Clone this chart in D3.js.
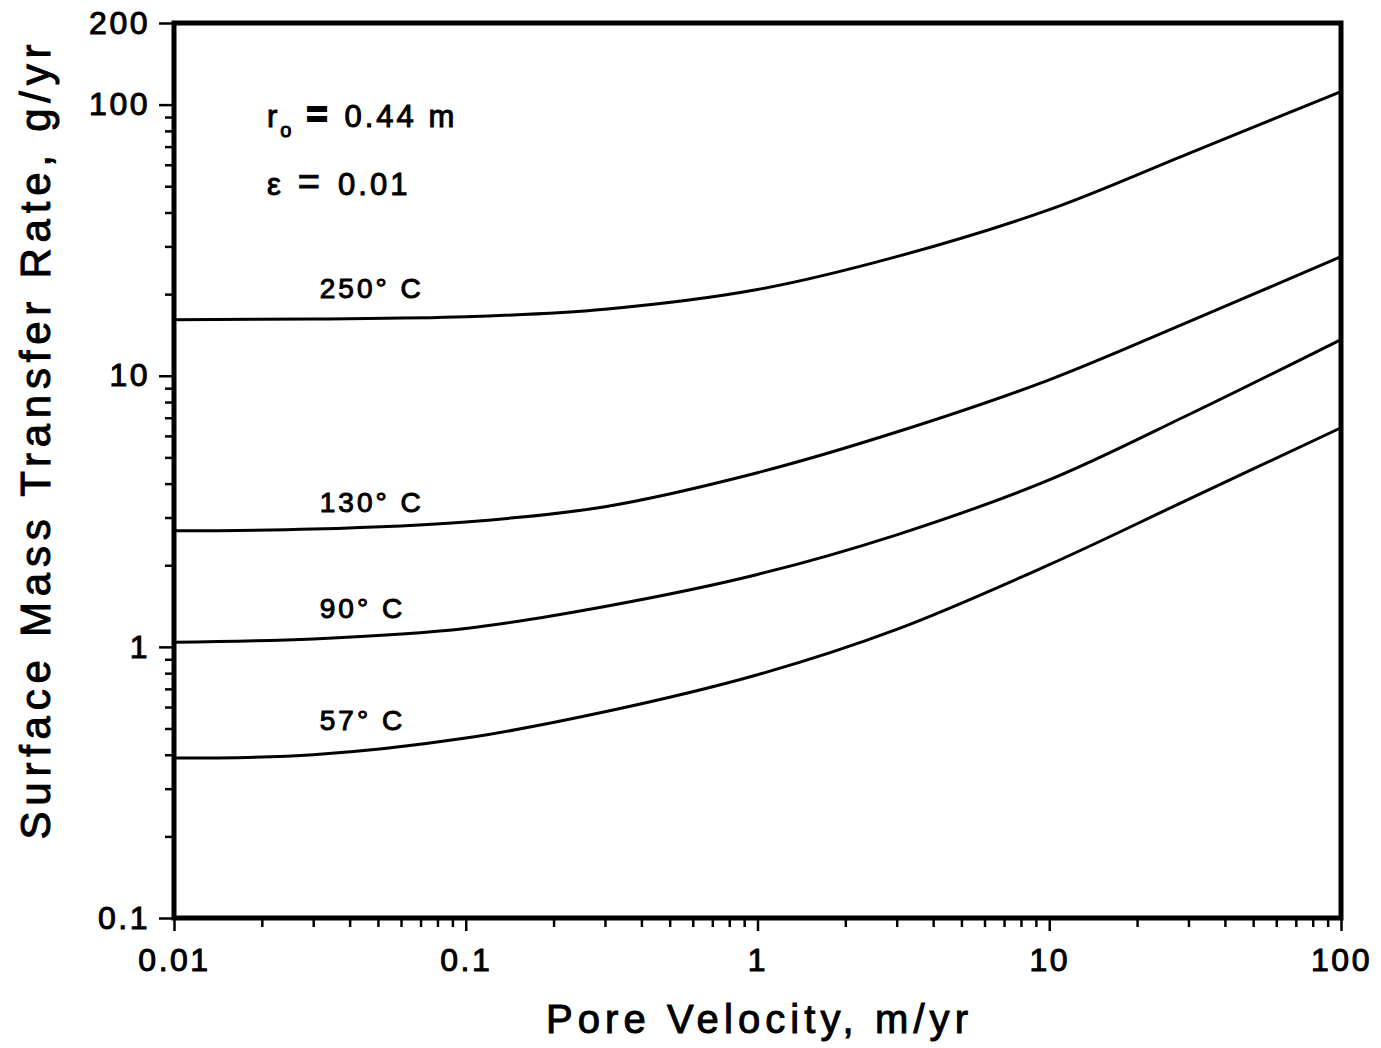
<!DOCTYPE html>
<html>
<head>
<meta charset="utf-8">
<script src="https://cdn.jsdelivr.net/npm/d3@7"></script>
<style>
  body { margin: 0; background: #fff; }
  text { font-family: "Liberation Sans", Arial, Helvetica, sans-serif; fill: #000; }
</style>
</head>
<body>
<div id="chart"></div>
<script>
// pore velocity (m/yr) where curves were read
const velocity = [0.01, 0.03, 0.1, 0.3, 1, 3, 10, 30, 100];

// surface mass transfer rate (g/yr) per temperature
const rate250 = [16.1, 16.2, 16.5, 17.6, 20.8, 27.5, 41.0, 66.0, 111.7];
const rate130 = [2.68, 2.72, 2.89, 3.29, 4.39, 6.2, 9.66, 15.8, 27.5];
const rate90  = [1.04, 1.07, 1.17, 1.41, 1.85, 2.59, 4.13, 7.18, 13.6];
const rate57  = [0.389, 0.40, 0.461, 0.576, 0.789, 1.16, 2.01, 3.5, 6.43];

const seriesNames = ["250° C", "130° C", "90° C", "57° C"];
const seriesRates = [rate250, rate130, rate90, rate57];
// where each curve label sits (velocity, rate)
const labelAt = [[0.0316, 19.4], [0.0316, 3.15], [0.0316, 1.28], [0.0316, 0.494]];

const xTicks = [0.01, 0.1, 1, 10, 100];
const xTickLabels = ["0.01", "0.1", "1", "10", "100"];
const yTicks = [0.1, 1, 10, 100, 200];
const yTickLabels = ["0.1", "1", "10", "100", "200"];

const width = 1381, height = 1048;
const margin = {top: 23, right: 40, bottom: 130, left: 174};
const innerW = 1341 - margin.left;
const innerH = 918 - margin.top;

const svg = d3.select("#chart").append("svg")
    .attr("width", width)
    .attr("height", height);

const g = svg.append("g")
    .attr("transform", `translate(${margin.left}, ${margin.top})`);

const x = d3.scaleLog().domain([0.01, 100]).range([0, innerW]);
const y = d3.scaleLog().domain([0.1, 200]).range([innerH, 0]);

// minor ticks 2..9 in each decade
const xMinor = [];
[0.01, 0.1, 1, 10].forEach(d => { for (let k = 2; k <= 9; k++) xMinor.push(d * k); });
const yMinor = [];
[0.1, 1, 10].forEach(d => { for (let k = 2; k <= 9; k++) yMinor.push(d * k); });

const xAxis = g.append("g")
    .attr("transform", `translate(0, ${innerH})`)
    .call(d3.axisBottom(x).tickValues(xTicks).tickFormat((d, i) => xTickLabels[i])
      .tickSize(13).tickPadding(17));
xAxis.select(".domain").remove();
xAxis.selectAll(".tick line").attr("stroke", "#000").attr("stroke-width", 2.5);
xAxis.selectAll(".tick text")
    .style("font-size", "32px")
    .style("letter-spacing", "2.5px")
    .attr("stroke", "#000").attr("stroke-width", 1);

const xMinorAxis = g.append("g")
    .attr("transform", `translate(0, ${innerH})`)
    .call(d3.axisBottom(x).tickValues(xMinor).tickFormat("").tickSize(9));
xMinorAxis.select(".domain").remove();
xMinorAxis.selectAll(".tick line").attr("stroke", "#000").attr("stroke-width", 2.5);

const yAxis = g.append("g")
    .call(d3.axisLeft(y).tickValues(yTicks).tickFormat((d, i) => yTickLabels[i])
      .tickSize(15).tickPadding(9));
yAxis.select(".domain").remove();
yAxis.selectAll(".tick line").attr("stroke", "#000").attr("stroke-width", 2.5);
yAxis.selectAll(".tick text")
    .style("font-size", "32px")
    .style("letter-spacing", "2.5px")
    .attr("stroke", "#000").attr("stroke-width", 1);

const yMinorAxis = g.append("g")
    .call(d3.axisLeft(y).tickValues(yMinor).tickFormat("").tickSize(9));
yMinorAxis.select(".domain").remove();
yMinorAxis.selectAll(".tick line").attr("stroke", "#000").attr("stroke-width", 2.5);

// frame
g.append("rect")
    .attr("x", 0).attr("y", 0)
    .attr("width", innerW).attr("height", innerH)
    .attr("fill", "none")
    .attr("stroke", "#000")
    .attr("stroke-width", 5);

const line = d3.line()
    .x(d => x(d[0]))
    .y(d => y(d[1]))
    .curve(d3.curveCatmullRom.alpha(0.5));

seriesRates.forEach((rates, i) => {
  g.append("path")
    .datum(velocity.map((v, j) => [v, rates[j]]))
    .attr("fill", "none")
    .attr("stroke", "#000")
    .attr("stroke-width", 3)
    .attr("d", line);

  g.append("text")
    .attr("x", x(labelAt[i][0]))
    .attr("y", y(labelAt[i][1]))
    .style("font-size", "28px")
    .style("letter-spacing", "3px")
    .attr("stroke", "#000").attr("stroke-width", 1)
    .text(seriesNames[i]);
});

// parameter notes
const note = g.append("g").attr("transform", "translate(93, 104)");
const t1 = note.append("text")
    .style("font-size", "31px")
    .style("letter-spacing", "3px")
    .attr("stroke", "#000").attr("stroke-width", 1);
t1.append("tspan").text("r");
t1.append("tspan").attr("dy", 10).style("font-size", "20px").text("o");
t1.append("tspan").attr("dy", -10).attr("dx", 12)
    .style("font-size", "36px").attr("font-weight", "bold")
    .attr("stroke-width", 2).text("=");
t1.append("tspan").attr("dx", 14).text("0.44 m");

const t2 = note.append("text")
    .attr("y", 68)
    .style("font-size", "31px")
    .style("letter-spacing", "3px")
    .attr("stroke", "#000").attr("stroke-width", 1);
t2.append("tspan").text("ε");
t2.append("tspan").attr("dx", 14).style("font-size", "38px").text("=");
t2.append("tspan").attr("dx", 15).text("0.01");

// axis titles
svg.append("text")
    .attr("x", 757)
    .attr("y", 1033)
    .attr("text-anchor", "middle")
    .attr("textLength", 422)
    .attr("lengthAdjust", "spacing")
    .style("font-size", "40px")
    .attr("stroke", "#000").attr("stroke-width", 1)
    .text("Pore Velocity, m/yr");

svg.append("text")
    .attr("transform", "translate(50, 442) rotate(-90)")
    .attr("text-anchor", "middle")
    .attr("textLength", 795)
    .attr("lengthAdjust", "spacing")
    .style("font-size", "42px")
    .attr("stroke", "#000").attr("stroke-width", 1)
    .text("Surface Mass Transfer Rate, g/yr");
</script>
</body>
</html>
